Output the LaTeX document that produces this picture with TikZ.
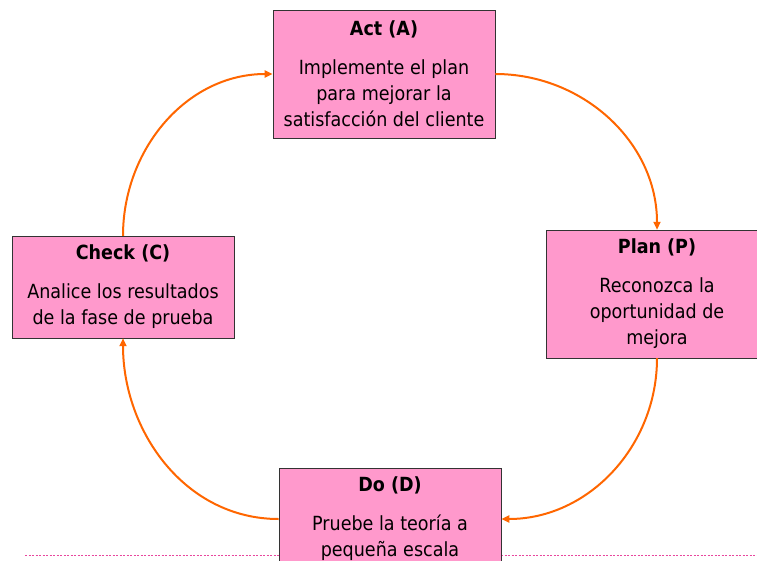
\documentclass[tikz,border=0pt]{standalone}
\usepackage{fontspec}
\setmainfont{DejaVu Sans}[FakeStretch=0.9]
\usetikzlibrary{arrows.meta}
\definecolor{boxpink}{HTML}{FF99CC}
\definecolor{arroworange}{HTML}{FF6600}
\definecolor{linepink}{HTML}{E8479E}
\begin{document}
\begin{tikzpicture}[x=1pt,y=-1pt]

      \useasboundingbox (0,0) rectangle (757,560);

      \coordinate (dl) at (25,555);
      \coordinate (dr) at (757,555);
      \draw[linepink, dash pattern=on 2.2pt off 1.3pt, line width=1pt] (dl) -- (dr);

      \begin{scope}[every node/.style={rectangle, draw=black!80, line width=0.6pt,
          fill=boxpink, minimum width=222pt, inner ysep=9pt, align=center,
          font=\fontsize{19.5}{26}\selectfont}]
        \node (act)   at (384,74)  [inner ysep=11pt] {\textbf{Act (A)}\\[13pt]Implemente el plan\\para mejorar la\\satisfacción del cliente};
        \node (plan)  at (657,294) {\textbf{Plan (P)}\\[13pt]Reconozca la\\oportunidad de\\mejora};
        \node (check) at (123,287) {\textbf{Check (C)}\\[13pt]Analice los resultados\\de la fase de prueba};
        \node (do)    at (390,519) {\textbf{Do (D)}\\[13pt]Pruebe la teoría a\\pequeña escala};
      \end{scope}

      \begin{scope}[every edge/.style={draw, arroworange, line width=2pt,
          -{Triangle[length=8pt,width=7pt]}}]
        \path (act.east)    edge[out=0,   in=90]  (plan.north);
        \path (plan.south)  edge[out=-90, in=0]   (do.east);
        \path (do.west)     edge[out=180, in=-90] (check.south);
        \path (check.north) edge[out=90,  in=180] (act.west);
      \end{scope}

    \end{tikzpicture}
\end{document}
